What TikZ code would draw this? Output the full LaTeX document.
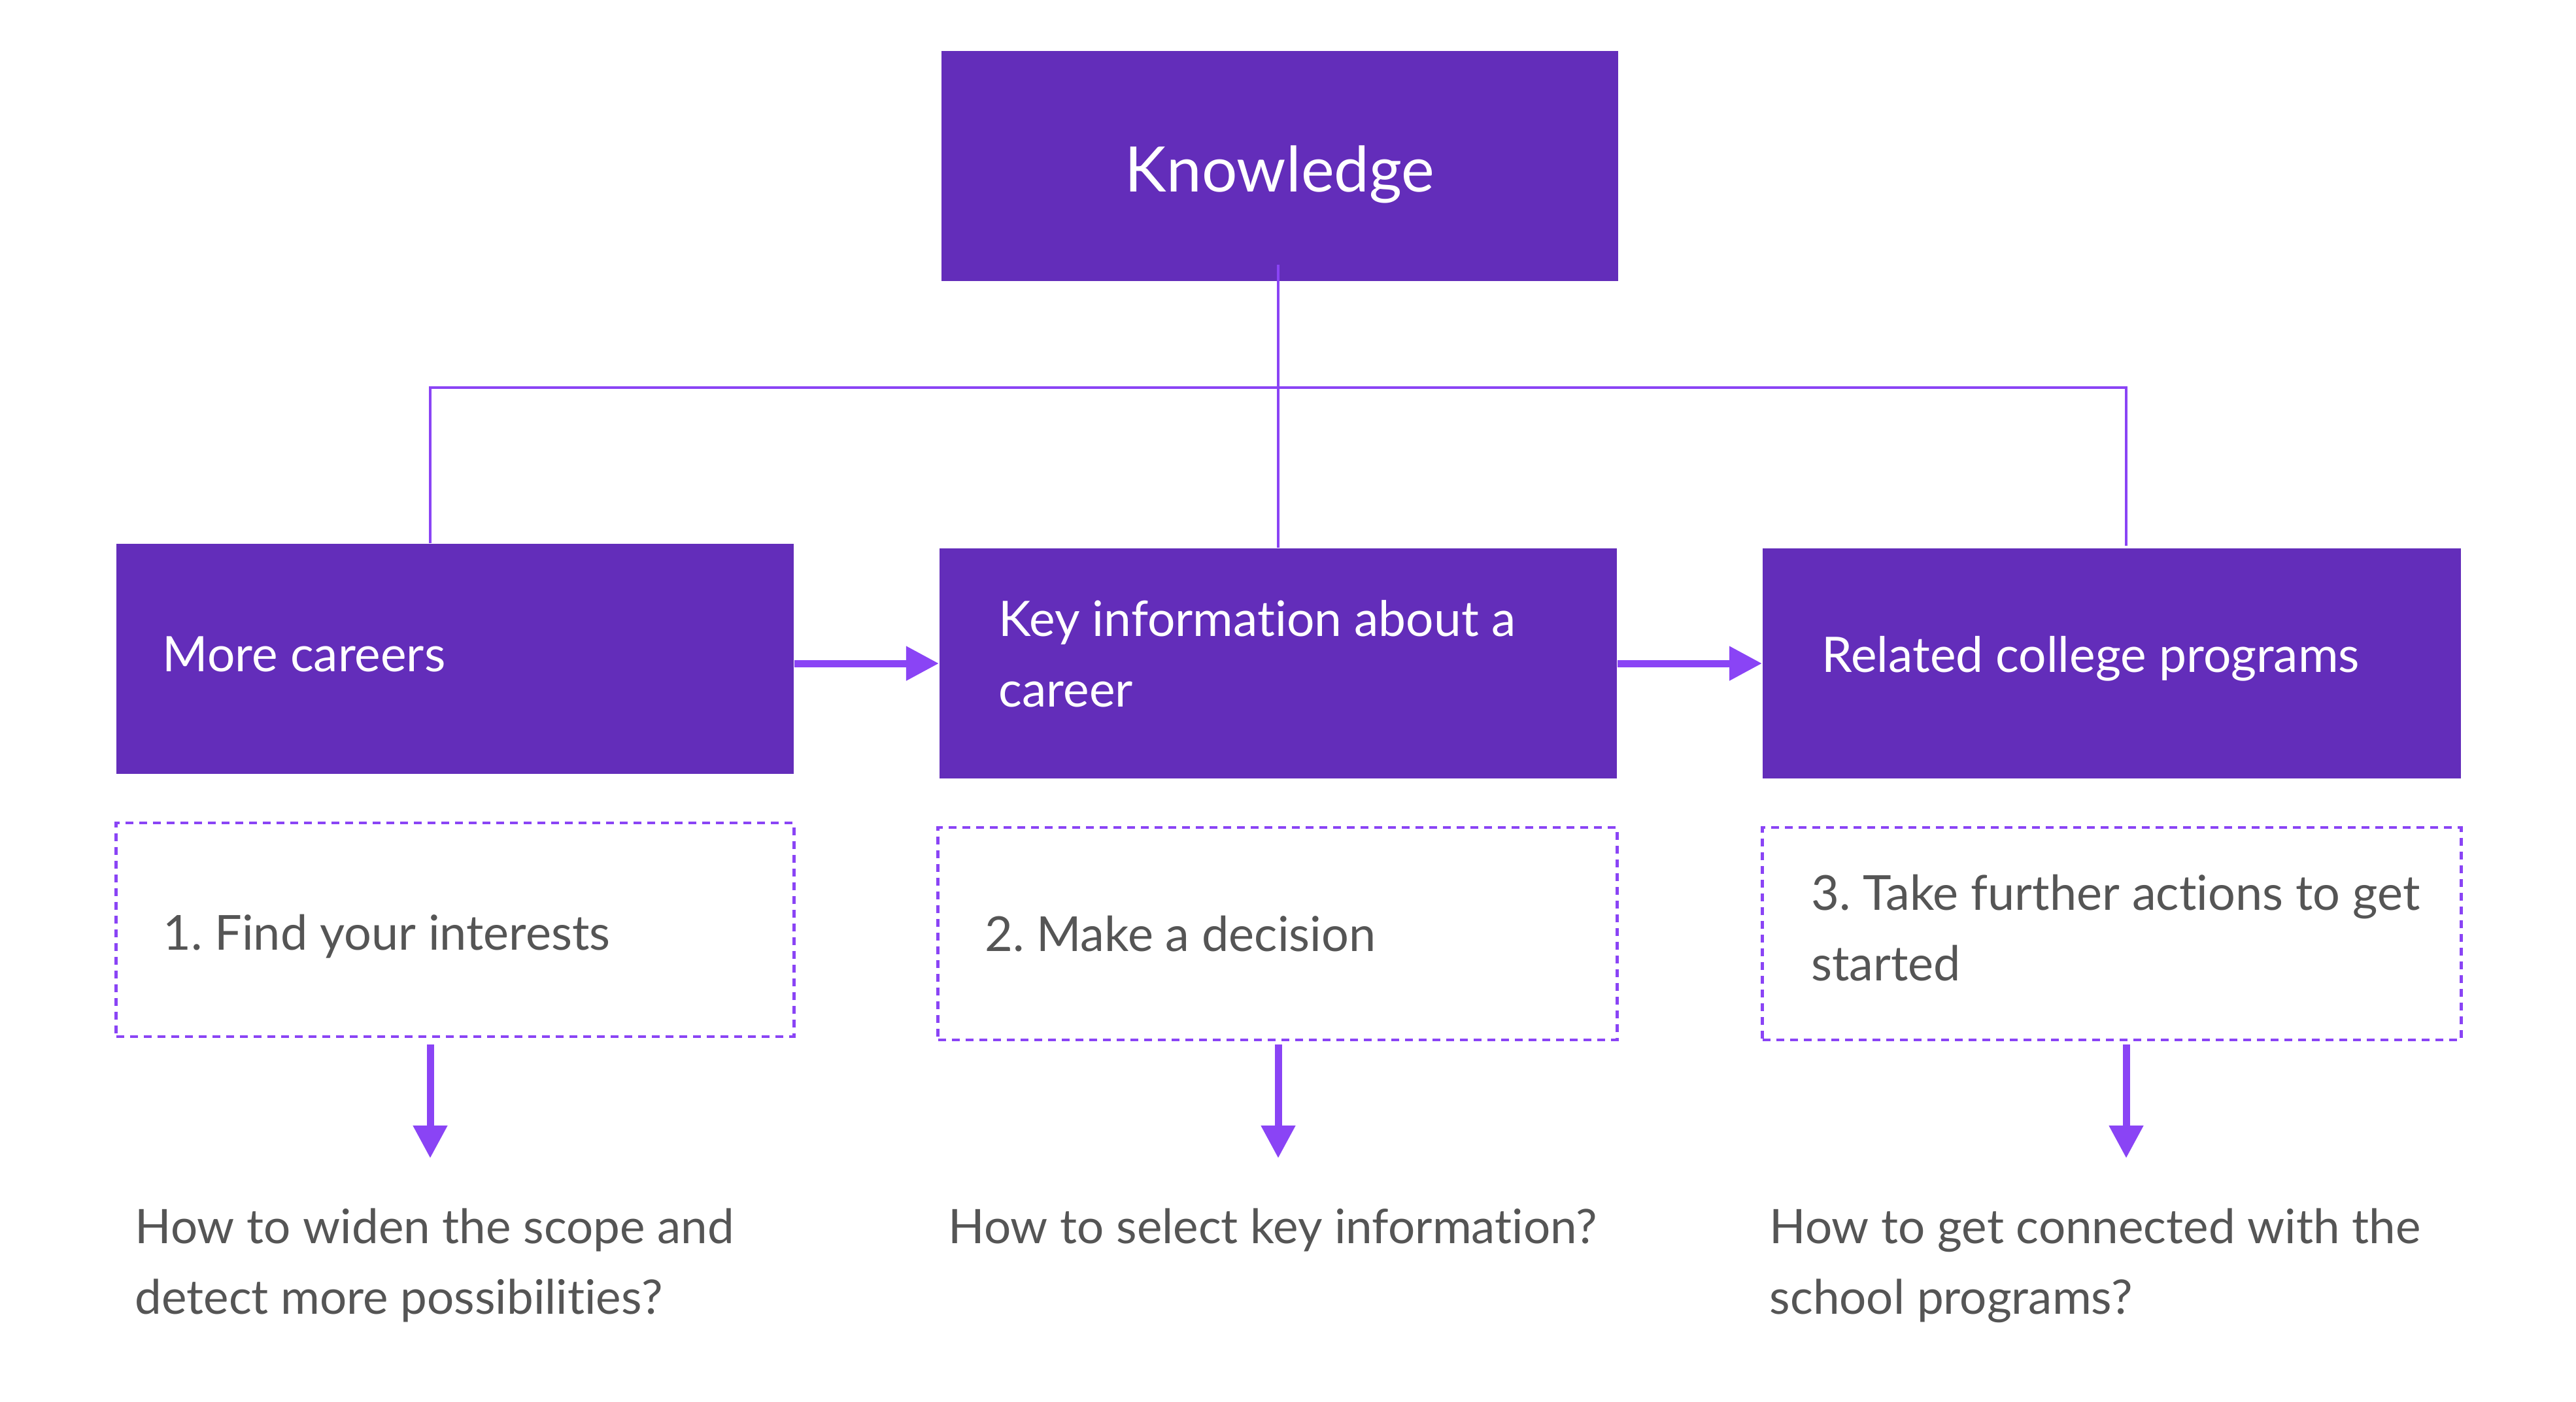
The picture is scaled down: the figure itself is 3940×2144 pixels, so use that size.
\documentclass[tikz,border=0pt]{standalone}
\usepackage{fontspec}
\setmainfont{Lato}[Ligatures=NoCommon]
\usetikzlibrary{arrows.meta}
\definecolor{boxfill}{RGB}{99,45,186}
\definecolor{linecol}{RGB}{138,68,245}
\definecolor{txtgray}{RGB}{85,85,85}
\frenchspacing
\begin{document}
\begin{tikzpicture}[x=0.01cm,y=-0.01cm,
  solidbox/.style={fill=boxfill,draw=none,rectangle,inner sep=0pt,minimum height=3.52cm},
  dashbox/.style={draw=linecol,line width=0.045cm,dash pattern=on 0.12cm off 0.09cm,rectangle,inner sep=0pt,minimum height=3.26cm},
  wtext/.style={text=white,inner sep=0pt,align=left,anchor=west,font=\fontsize{21.3}{30.7}\selectfont},
  gtext/.style={text=txtgray,inner sep=0pt,align=left,anchor=west,font=\fontsize{21}{30.7}\selectfont},
  qtext/.style={text=txtgray,inner sep=0pt,align=left,anchor=west,font=\fontsize{20.7}{30.7}\selectfont},
  conn/.style={draw=linecol,line width=0.045cm},
  arr/.style={draw=linecol,line width=0.11cm,-{Triangle[length=0.5cm,width=0.5cm]}}
]
\useasboundingbox (0,0) rectangle (3940,2144);

\node[solidbox,minimum width=10.35cm] (K) at (1957.5,254) {};
\node[text=white,inner sep=0pt,font=\fontsize{27.3}{33}\selectfont] (Kt) at ([yshift=-0.125cm]K.center) {Knowledge};

\node[solidbox,minimum width=10.36cm] (L) at (696,1008) {};
\node[solidbox,minimum width=10.36cm] (M) at (1955,1015) {};
\node[solidbox,minimum width=10.68cm] (R) at (3230,1015) {};
\node[wtext] (Lt) at ([xshift=0.71cm,yshift=0.075cm]L.west) {More careers};
\node[wtext] (Mt) at ([xshift=0.91cm,yshift=0.15cm]M.west) {Key information about a\\career};
\node[wtext] (Rt) at ([xshift=0.91cm,yshift=0.075cm]R.west) {Related college programs};

\node[dashbox,minimum width=10.36cm,minimum height=3.27cm] (D1) at (696,1422.5) {};
\node[dashbox,minimum width=10.38cm,minimum height=3.25cm] (D2) at (1954,1428.5) {};
\node[dashbox,minimum width=10.68cm,minimum height=3.25cm] (D3) at (3230,1428.5) {};
\node[gtext] (D1t) at ([xshift=0.73cm,yshift=-0.10cm]D1.west) {1. Find your interests};
\node[gtext] (D2t) at ([xshift=0.73cm]D2.west) {2. Make a decision};
\node[gtext] (D3t) at ([xshift=0.76cm,yshift=0.09cm]D3.west) {3. Take further actions to get\\started};

\node[qtext] (Q1) at (206,1936) {How to widen the scope and\\detect more possibilities?};
\node[qtext] (Q2) at (1450,1882) {How to select key information?};
\node[qtext] (Q3) at (2706,1936) {How to get connected with the\\school programs?};

\coordinate (hl) at (658,593);
\coordinate (hr) at (3252,593);
\coordinate (kstart) at (1955,405);
\coordinate (t1) at (658,1772);
\coordinate (t2) at (1955,1772);
\coordinate (t3) at (3252,1772);

\draw[conn] (kstart) -- (M.north);
\draw[conn] (L.north -| hl) -- (hl) -- (hr) -- ([yshift=0.03cm]R.north -| hr);

\draw[arr] (M.west -| L.east) -- (M.west);
\draw[arr] (R.west -| M.east) -- (R.west);

\draw[arr] ([yshift=-0.1cm]D1.south -| t1) -- (t1);
\draw[arr] ([yshift=-0.05cm]D2.south -| t2) -- (t2);
\draw[arr] ([yshift=-0.05cm]D3.south -| t3) -- (t3);
\end{tikzpicture}
\end{document}
